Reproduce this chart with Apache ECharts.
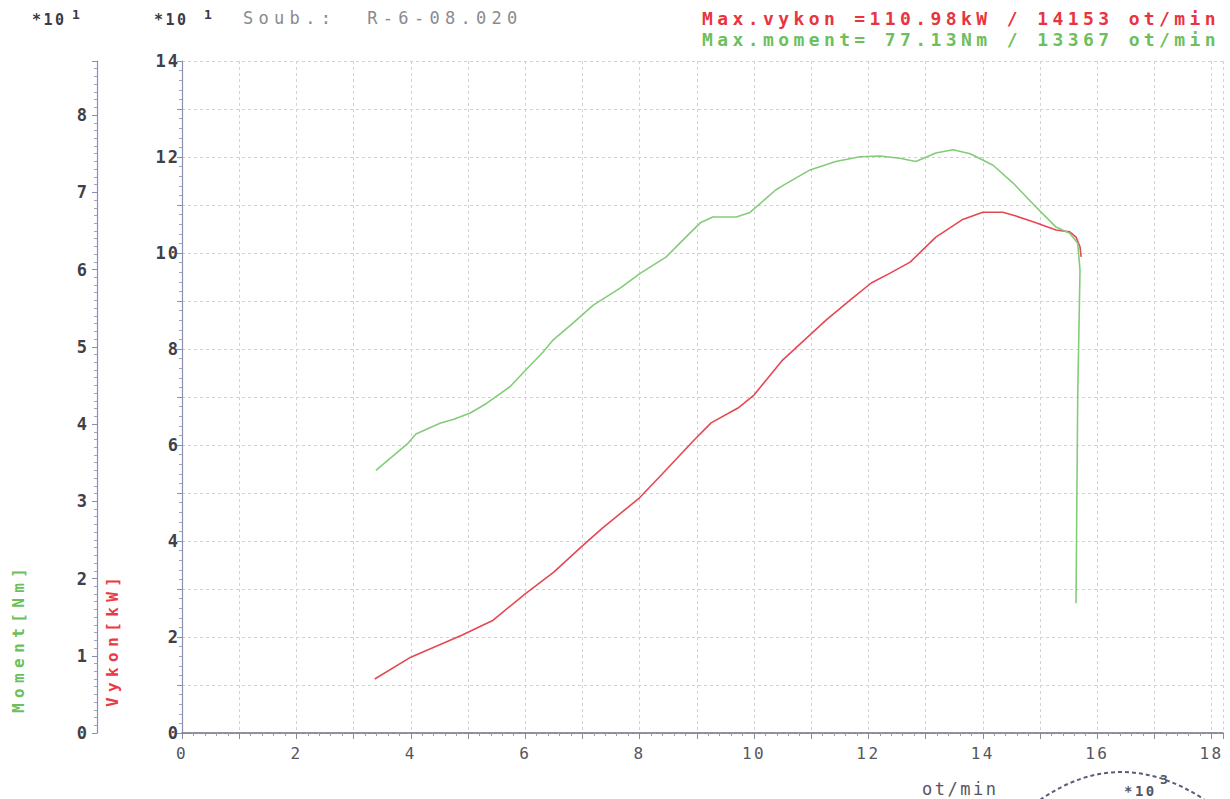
<!DOCTYPE html>
<html>
<head>
<meta charset="utf-8">
<script src="https://cdn.jsdelivr.net/npm/echarts@6/dist/echarts.min.js"></script>
<style>
  html, body { margin: 0; padding: 0; background: #ffffff; }
  #chart { width: 1230px; height: 799px; }
</style>
</head>
<body>
<div id="chart"></div>
<script>
// ---- data (x in 10^3 ot/min, power in 10^1 kW, torque in 10^1 Nm) ----
const rpmPower = [3.37, 4.0, 4.9, 5.44, 6.0, 6.5, 7.0, 7.35, 8.0, 8.4, 8.95, 9.25, 9.72, 10.0, 10.5, 11.26, 11.68, 12.05, 12.38, 12.73, 13.18, 13.65, 14.0, 14.35, 14.58, 14.93, 15.28, 15.52, 15.63, 15.70, 15.72];
const powerVals = [1.125, 1.58, 2.04, 2.35, 2.9, 3.35, 3.9, 4.27, 4.9, 5.4, 6.1, 6.46, 6.77, 7.04, 7.77, 8.6, 9.02, 9.375, 9.58, 9.81, 10.33, 10.7, 10.85, 10.85, 10.77, 10.63, 10.48, 10.44, 10.33, 10.13, 9.92];
const rpmTorque = [3.39, 3.95, 4.09, 4.51, 4.74, 5.03, 5.31, 5.73, 6.01, 6.31, 6.49, 6.84, 7.19, 7.66, 8.01, 8.46, 8.81, 9.07, 9.28, 9.69, 9.93, 10.38, 10.51, 10.98, 11.43, 11.85, 12.2, 12.55, 12.83, 13.18, 13.48, 13.78, 14.18, 14.53, 14.93, 15.28, 15.52, 15.66, 15.70, 15.66, 15.63];
const torqueVals = [3.40, 3.75, 3.87, 4.01, 4.06, 4.14, 4.26, 4.48, 4.70, 4.93, 5.09, 5.31, 5.54, 5.76, 5.95, 6.16, 6.42, 6.61, 6.68, 6.68, 6.74, 7.03, 7.09, 7.29, 7.40, 7.46, 7.47, 7.44, 7.40, 7.51, 7.55, 7.50, 7.35, 7.12, 6.81, 6.55, 6.47, 6.34, 5.99, 4.35, 1.68];
const xTickLabels = ['0', '2', '4', '6', '8', '10', '12', '14', '16', '18'];
const powerTickLabels = ['0', '2', '4', '6', '8', '10', '12', '14'];
const torqueTickLabels = ['0', '1', '2', '3', '4', '5', '6', '7', '8'];
const headerPower = 'Max.vykon =110.98kW / 14153 ot/min';
const headerTorque = 'Max.moment= 77.13Nm / 13367 ot/min';
const headerSample = 'Soub.:  R-6-08.020';

const MONO = "'DejaVu Sans Mono', monospace";
const dom = document.getElementById('chart');
const chart = echarts.init(dom, null, { renderer: 'svg' });

const pairs = (xs, ys) => xs.map((x, i) => [x, ys[i]]);
const gridLine = { show: true, lineStyle: { color: '#d2d2d2', type: [3, 3], width: 1 } };

chart.setOption({
  animation: false,
  backgroundColor: '#ffffff',
  grid: { left: 182, right: 7, top: 61, bottom: 66, containLabel: false },
  xAxis: {
    type: 'value', min: 0, max: 18.2, interval: 1,
    axisLine: { show: true, lineStyle: { color: '#6d7080', width: 1.5 } },
    axisTick: { show: true, length: 6, lineStyle: { color: '#8a8a9a' } },
    minorTick: { show: true, splitNumber: 5, length: 3, lineStyle: { color: '#9a9aaa' } },
    axisLabel: {
      margin: 12, color: '#555560', fontFamily: MONO, fontSize: 16,
      formatter: v => xTickLabels.includes(String(v)) ? String(v) : ''
    },
    splitLine: gridLine
  },
  yAxis: [
    {
      type: 'value', position: 'left', offset: 0, min: 0, max: 14, interval: 1,
      axisLine: { show: true, onZero: false, lineStyle: { color: '#8a90b0', width: 1.2 } },
      axisTick: { show: true, length: 5, lineStyle: { color: '#8a8fb0' } },
      minorTick: { show: true, splitNumber: 5, length: 3, lineStyle: { color: '#a0a4c0' } },
      axisLabel: {
        margin: 2, color: '#404048', fontFamily: MONO, fontSize: 17, fontWeight: 'bold',
        formatter: v => powerTickLabels.includes(String(v)) ? String(v) : ''
      },
      splitLine: gridLine
    },
    {
      type: 'value', position: 'left', offset: 85, min: 0, max: 8.7, interval: 1,
      axisLine: { show: true, onZero: false, lineStyle: { color: '#8090c0', width: 1.2 } },
      axisTick: { show: true, length: 5, lineStyle: { color: '#8a8fb0' } },
      minorTick: { show: true, splitNumber: 10, length: 3, lineStyle: { color: '#a0a4c0' } },
      axisLabel: {
        margin: 8, color: '#404048', fontFamily: MONO, fontSize: 17, fontWeight: 'bold',
        formatter: v => torqueTickLabels.includes(String(v)) ? String(v) : ''
      },
      splitLine: { show: false }
    }
  ],
  series: [
    {
      name: 'Vykon', type: 'line', xAxisIndex: 0, yAxisIndex: 0,
      data: pairs(rpmPower, powerVals), showSymbol: false, symbol: 'none',
      lineStyle: { color: '#e64852', width: 1.6 }, z: 3
    },
    {
      name: 'Moment', type: 'line', xAxisIndex: 0, yAxisIndex: 1,
      data: pairs(rpmTorque, torqueVals), showSymbol: false, symbol: 'none',
      lineStyle: { color: '#84cc7a', width: 1.6 }, z: 4
    }
  ],
  graphic: [
    { type: 'text', x: 32, y: 20, style: { text: '*10', fill: '#3a3a48', font: 'bold 15px ' + MONO, verticalAlign: 'middle' } },
    { type: 'text', x: 72, y: 14, style: { text: '1', fill: '#3a3a48', font: 'bold 13px ' + MONO, verticalAlign: 'middle' } },
    { type: 'text', x: 154, y: 20, style: { text: '*10', fill: '#3a3a48', font: 'bold 15px ' + MONO, verticalAlign: 'middle' } },
    { type: 'text', x: 204, y: 14, style: { text: '1', fill: '#3a3a48', font: 'bold 13px ' + MONO, verticalAlign: 'middle' } },
    { type: 'text', x: 243, y: 18, style: { text: headerSample, fill: '#8a8a90', font: '17px ' + MONO, verticalAlign: 'middle' } },
    { type: 'text', x: 702, y: 18, style: { text: headerPower, fill: '#e8343f', font: 'bold 18px ' + MONO, verticalAlign: 'middle' } },
    { type: 'text', x: 702, y: 39, style: { text: headerTorque, fill: '#6cbf5c', font: 'bold 18px ' + MONO, verticalAlign: 'middle' } },
    { type: 'text', x: 18.5, y: 713, rotation: Math.PI / 2, style: { text: 'Moment[Nm]', fill: '#6cc05c', font: 'bold 16px ' + MONO, verticalAlign: 'middle' } },
    { type: 'text', x: 112.5, y: 707, rotation: Math.PI / 2, style: { text: 'Vykon[kW]', fill: '#ea3a44', font: 'bold 16px ' + MONO, verticalAlign: 'middle' } },
    { type: 'text', x: 922, y: 789, style: { text: 'ot/min', fill: '#555560', font: '17px ' + MONO, verticalAlign: 'middle' } },
    { type: 'text', x: 1124, y: 791, style: { text: '*10', fill: '#555560', font: 'bold 14px ' + MONO, verticalAlign: 'middle' } },
    { type: 'text', x: 1160, y: 779, style: { text: '3', fill: '#555560', font: 'bold 13px ' + MONO, verticalAlign: 'middle' } },
    { type: 'bezierCurve', shape: { x1: 1040, y1: 800, cpx1: 1120, cpy1: 744, x2: 1205, y2: 800 },
      style: { stroke: '#5a5f78', lineWidth: 2, lineDash: [4, 3], fill: null } }
  ]
});

function spaceText() {
  dom.querySelectorAll('svg text').forEach(t => {
    const s = t.textContent;
    let sp = null;
    if (s.startsWith('Max.')) sp = 4.4;
    else if (s.startsWith('Soub')) sp = 5.3;
    else if (s === '*10') sp = 2.5;
    else if (s === 'Moment[Nm]' || s === 'Vykon[kW]') sp = 5.4;
    else if (s === 'ot/min') sp = 2.5;
    else if (/^\d+$/.test(s)) sp = (t.getAttribute('text-anchor') === 'end') ? 2 : 2.4;
    if (sp !== null) t.style.letterSpacing = sp + 'px';
  });
}
spaceText();
setTimeout(spaceText, 50);
setTimeout(spaceText, 300);
</script>
</body>
</html>
